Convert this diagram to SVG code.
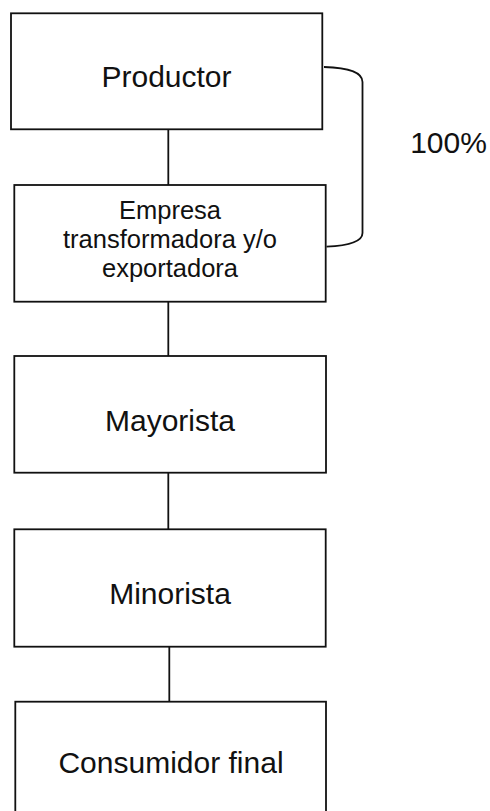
<svg xmlns="http://www.w3.org/2000/svg" width="490" height="811" viewBox="0 0 490 811">
<style>
.box{fill:#fff;stroke:#111;stroke-width:1.8}
.ln{fill:none;stroke:#111;stroke-width:1.8}
text{font-family:"Liberation Sans",Arial,sans-serif;fill:#111;text-anchor:middle}
.big{font-size:30px}
.sm{font-size:25.5px}
</style>
<rect width="490" height="811" fill="#fff"/>
<g id="connectors">
<line class="ln" x1="168.3" y1="129.3" x2="168.3" y2="185"/>
<line class="ln" x1="168.3" y1="301.7" x2="168.3" y2="356"/>
<line class="ln" x1="168.3" y1="472.7" x2="168.3" y2="529.3"/>
<line class="ln" x1="169.3" y1="646.7" x2="169.3" y2="701.7"/>
<path class="ln" d="M324,67 Q362.5,68 362.5,82 L362.5,233 Q362.5,245 326.5,246.7"/>
</g>
<g id="productor">
<rect class="box" x="11" y="13.3" width="311.3" height="116"/>
<text class="big" x="166.5" y="87">Productor</text>
</g>
<g id="empresa">
<rect class="box" x="14.3" y="185" width="311.4" height="116.7"/>
<text class="sm" x="170" y="219">Empresa</text>
<text class="sm" x="170" y="248.3">transformadora y/o</text>
<text class="sm" x="170" y="276.7">exportadora</text>
</g>
<g id="mayorista">
<rect class="box" x="14.3" y="356" width="311.7" height="116.7"/>
<text class="big" x="170" y="430.7">Mayorista</text>
</g>
<g id="minorista">
<rect class="box" x="14.3" y="529.3" width="311.4" height="117.4"/>
<text class="big" x="170" y="604">Minorista</text>
</g>
<g id="consumidor">
<rect class="box" x="15.3" y="701.7" width="310.7" height="130"/>
<text class="big" x="171" y="773">Consumidor final</text>
</g>
<g id="pct">
<text class="big" x="448.5" y="152.7">100%</text>
</g>
</svg>
